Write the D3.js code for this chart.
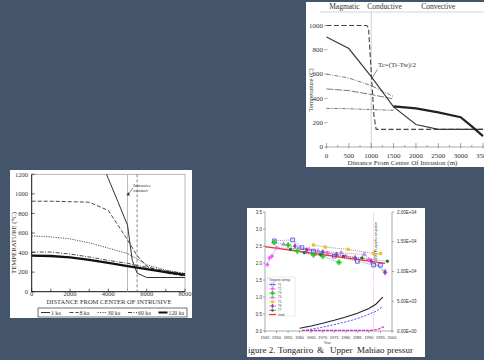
<!DOCTYPE html>
<html>
<head>
<meta charset="utf-8">
<script src="https://cdnjs.cloudflare.com/ajax/libs/d3/7.8.5/d3.min.js"></script>
<style>
  html, body { margin: 0; padding: 0; background: #44546a; overflow: hidden; }
  text { font-family: 'Liberation Serif', 'DejaVu Serif', serif; fill: #333; }
  .sans { font-family: 'Liberation Sans', Arial, sans-serif; }
</style>
</head>
<body>
<svg id="slide" width="484" height="360"></svg>
<script>
// ---- top right chart: temperature vs distance (m)
const zoneLabels = ['Magmatic', 'Conductive', 'Convective'];
const zoneCenters = [400, 1300, 2500];
const topXTicks = [0, 500, 1000, 1500, 2000, 2500, 3000, 3500];
const topXMinor = [250, 750, 1250, 1750, 2250, 2750, 3250];
const topYTicks = [0, 200, 400, 600, 800, 1000];
const magmaticStep = [[0, 1000], [900, 1000], [940, 980], [1000, 620], [1060, 260], [1110, 145], [3500, 145]];
const conductive = [[0, 905], [500, 810], [1000, 580], [1500, 330], [2000, 185], [2500, 145], [3500, 145]];
const convective = [[1500, 335], [2000, 318], [2500, 285], [3000, 245], [3250, 170], [3500, 90]];
const dashDot600 = [[0, 600], [500, 568], [1000, 505], [1500, 415]];
const thin480 = [[0, 478], [500, 464], [1000, 432], [1500, 395]];
const dashDot310 = [[0, 318], [500, 315], [1000, 308], [1500, 302]];
const tcLabel = 'Tc=(Ti-Tw)/2';

// ---- bottom left chart: temperature vs distance from intrusive
const leftXTicks = [0, 1000, 2000, 3000, 4000, 5000, 6000, 7000, 8000];
const leftXLabels = [0, 2000, 4000, 6000, 8000];
const leftYTicks = [0, 200, 400, 600, 800, 1000, 1200];
const ka1 = [[3800, 1250], [4000, 1155], [4500, 920], [5000, 680], [5250, 320], [5500, 190], [6000, 145], [8000, 145]];
const ka8 = [[0, 925], [1000, 925], [2000, 920], [3000, 915], [4000, 830], [5000, 530], [5500, 370], [6000, 260], [7000, 190], [8000, 160]];
const ka30 = [[0, 570], [1000, 560], [2000, 540], [3000, 500], [4000, 445], [5000, 390], [5500, 335], [6000, 275], [7000, 220], [8000, 185]];
const ka60 = [[0, 405], [1000, 405], [2000, 385], [3000, 355], [4000, 320], [5000, 290], [6000, 250], [7000, 215], [8000, 185]];
const ka120 = [[0, 368], [1000, 365], [2000, 350], [3000, 325], [4000, 295], [5000, 262], [6000, 230], [7000, 200], [8000, 172]];
const kaNames = ['1 ka', '8 ka', '30 ka', '60 ka', '120 ka'];
const contactX = 5000;
const contactDashX = 5500;

// ---- bottom right chart: spring data over time
const yearTicks = [1945, 1950, 1955, 1960, 1965, 1970, 1975, 1980, 1985, 1990, 1995, 2000];
const leftRatioTicks = [0, 0.5, 1, 1.5, 2, 2.5, 3, 3.5];
const rightTicks = [0, 5000, 10000, 15000, 20000];
const seriesNames = ['T1', 'T2', 'T3', 'T4', 'T5', 'T6', 'T7'];
const seriesT1 = [[1949, 2.65], [1957, 2.68], [1961, 2.45], [1966, 2.35], [1975, 2.2], [1985, 2.05], [1992, 1.94], [1995, 1.94]];
const seriesT2 = [[1946, 1.95], [1947, 2.15], [1948, 2.2], [1950, 2.45], [1964, 2.4], [1972, 2.3], [1980, 2.2], [1990, 2.1]];
const seriesT3 = [[1949, 2.6], [1955, 2.53], [1959, 2.35], [1966, 2.24], [1970, 2.2], [1977, 2.02]];
const seriesT4 = [[1953, 2.55], [1960, 2.45], [1968, 2.35], [1978, 2.3], [1988, 2.25], [1997, 1.75]];
const seriesT5 = [[1966, 2.53], [1971, 2.47], [1981, 2.4], [1992, 2.28], [1995, 2.28]];
const seriesT6 = [[1958, 2.5], [1963, 2.38], [1970, 2.32], [1976, 2.25], [1984, 2.15], [1991, 2.05], [1997, 1.72]];
const seriesT7 = [[1956, 2.4], [1962, 2.3], [1969, 2.25], [1979, 2.2], [1987, 2.15], [1998, 2.05]];
const trendLine = [[1945, 2.48], [1997, 1.99]];
const blackCurve = [[1960, 450], [1965, 850], [1970, 1300], [1975, 1800], [1980, 2350], [1985, 3000], [1990, 3800], [1993, 4500], [1996, 5700]];
const blueCurve = [[1963, 150], [1968, 500], [1973, 900], [1978, 1350], [1983, 1850], [1988, 2500], [1993, 3300], [1996, 4100]];
const magentaBase = [[1961, 100], [1964, 100], [1967, 100], [1970, 100], [1973, 100], [1976, 100], [1979, 100], [1982, 100], [1985, 100], [1988, 100], [1991, 100], [1994, 300], [1996, 700], [1997, 500]];
const eruptionYear = 1992;
const captionWords = ['igure 2.', 'Tongariro', '&', 'Upper', 'Mahiao', 'pressur'];

const svg = d3.select('#slide');
svg.append('rect').attr('width', 484).attr('height', 360).attr('fill', '#44546a');

const line = (x, y) => d3.line().x((d) => x(d[0])).y((d) => y(d[1]));

// ================= TOP RIGHT =================
function drawTopChart() {
  const g = svg.append('g');
  g.append('rect').attr('x', 306).attr('y', 2).attr('width', 178).attr('height', 165).attr('fill', '#fff');

  const x = d3.scaleLinear().domain([0, 3500]).range([326.5, 483]);
  const y = d3.scaleLinear().domain([0, 1000]).range([147, 25.5]);

  //zone header
  g.append('line').attr('x1', 320).attr('x2', 484).attr('y1', 12).attr('y2', 12).attr('stroke', '#bbb').attr('stroke-width', 0.6);
  g.selectAll('.zone')
    .data(zoneLabels)
    .join('text')
    .attr('x', (d, i) => x(zoneCenters[i]) - (i === 0 ? 0 : 0))
    .attr('y', 9)
    .attr('text-anchor', 'middle')
    .style('font-size', '7.5px')
    .text((d) => d);

  //boundary at 1000 m
  g.append('line')
    .attr('x1', x(1000)).attr('x2', x(1000))
    .attr('y1', 12).attr('y2', y(0))
    .attr('stroke', '#c4c4c4').attr('stroke-width', 0.8);

  //x axis
  g.append('line').attr('x1', x(0)).attr('x2', 484).attr('y1', y(0)).attr('y2', y(0)).attr('stroke', '#777').attr('stroke-width', 0.6);
  g.selectAll('.xt')
    .data(topXTicks)
    .join('line')
    .attr('x1', (d) => x(d)).attr('x2', (d) => x(d))
    .attr('y1', y(0) - 4).attr('y2', y(0) + 1.5)
    .attr('stroke', '#666').attr('stroke-width', 0.6);
  g.selectAll('.xm')
    .data(topXMinor)
    .join('line')
    .attr('x1', (d) => x(d)).attr('x2', (d) => x(d))
    .attr('y1', y(0) - 2).attr('y2', y(0))
    .attr('stroke', '#666').attr('stroke-width', 0.6);
  g.selectAll('.xl')
    .data(topXTicks)
    .join('text')
    .attr('x', (d) => x(d))
    .attr('y', 157.5)
    .attr('text-anchor', 'middle')
    .style('font-size', '7px')
    .text((d) => d);

  //y ticks
  g.selectAll('.yl')
    .data(topYTicks)
    .join('text')
    .attr('x', 323)
    .attr('y', (d) => y(d) + 2.3)
    .attr('text-anchor', 'end')
    .style('font-size', '7px')
    .text((d) => d);
  g.selectAll('.yt')
    .data(topYTicks)
    .join('line')
    .attr('x1', 324.5).attr('x2', 327.5)
    .attr('y1', (d) => y(d)).attr('y2', (d) => y(d))
    .attr('stroke', '#666').attr('stroke-width', 0.6);

  g.append('text')
    .attr('transform', `translate(313,${y(470)}) rotate(-90)`)
    .attr('text-anchor', 'middle')
    .style('font-size', '6.5px')
    .text('Temperature (C)');
  g.append('text')
    .attr('x', x(1700)).attr('y', 165)
    .attr('text-anchor', 'middle')
    .style('font-size', '7px')
    .text('Distance From Center Of Intrusion (m)');

  const l = line(x, y);
  const curves = [
    { d: magmaticStep, dash: '5,2.5', w: 1.1, c: '#444' },
    { d: dashDot600, dash: '4,1.5,1,1.5', w: 0.8, c: '#555' },
    { d: thin480, dash: '7,1.5', w: 0.8, c: '#555' },
    { d: dashDot310, dash: '3,1,1,1,1,1', w: 0.8, c: '#444' },
    { d: conductive, dash: null, w: 1.2, c: '#3a3a3a' },
    { d: convective, dash: null, w: 2.2, c: '#222' },
  ];
  g.selectAll('.curve')
    .data(curves)
    .join('path')
    .attr('d', (d) => l(d.d))
    .attr('fill', 'none')
    .attr('stroke', (d) => d.c)
    .attr('stroke-width', (d) => d.w)
    .attr('stroke-dasharray', (d) => d.dash);

  //Tc label with leader
  g.append('text')
    .attr('x', x(1150)).attr('y', y(660))
    .style('font-size', '7px')
    .text(tcLabel);
  g.append('line')
    .attr('x1', x(1140)).attr('y1', y(640))
    .attr('x2', x(1010)).attr('y2', y(560))
    .attr('stroke', '#444').attr('stroke-width', 0.6);
}

// ================= BOTTOM LEFT =================
function drawLeftChart() {
  const g = svg.append('g');
  g.append('rect').attr('x', 10).attr('y', 170).attr('width', 182).attr('height', 148).attr('fill', '#fff');

  const x = d3.scaleLinear().domain([0, 8000]).range([31.7, 185]);
  const y = d3.scaleLinear().domain([0, 1200]).range([291.7, 174.3]);

  svg.append('clipPath').attr('id', 'leftClip')
    .append('rect').attr('x', x(0)).attr('y', y(1200)).attr('width', x(8000) - x(0)).attr('height', y(0) - y(1200));

  //frame
  g.append('rect')
    .attr('x', x(0)).attr('y', y(1200))
    .attr('width', x(8000) - x(0)).attr('height', y(0) - y(1200))
    .attr('fill', 'none').attr('stroke', '#999').attr('stroke-width', 0.7);
  g.append('line').attr('x1', x(0)).attr('x2', x(0)).attr('y1', y(1200)).attr('y2', y(0)).attr('stroke', '#222').attr('stroke-width', 1);
  g.append('line').attr('x1', x(0)).attr('x2', x(8000)).attr('y1', y(0)).attr('y2', y(0)).attr('stroke', '#222').attr('stroke-width', 1);

  g.selectAll('.xt')
    .data(leftXTicks)
    .join('line')
    .attr('x1', (d) => x(d)).attr('x2', (d) => x(d))
    .attr('y1', y(0)).attr('y2', y(0) - 3)
    .attr('stroke', '#222').attr('stroke-width', 0.7);
  g.selectAll('.yt')
    .data(leftYTicks)
    .join('line')
    .attr('x1', x(0)).attr('x2', x(0) + 3)
    .attr('y1', (d) => y(d)).attr('y2', (d) => y(d))
    .attr('stroke', '#222').attr('stroke-width', 0.7);
  g.selectAll('.xl')
    .data(leftXLabels)
    .join('text')
    .attr('x', (d) => x(d))
    .attr('y', 296)
    .attr('text-anchor', 'middle')
    .style('font-size', '6.5px')
    .text((d) => d);
  g.selectAll('.yl')
    .data(leftYTicks)
    .join('text')
    .attr('x', 28)
    .attr('y', (d) => y(d) + 2.2)
    .attr('text-anchor', 'end')
    .style('font-size', '6.5px')
    .text((d) => d);

  g.append('text')
    .attr('x', 109).attr('y', 303.5)
    .attr('text-anchor', 'middle')
    .attr('textLength', 125).attr('lengthAdjust', 'spacingAndGlyphs')
    .style('font-size', '6.5px')
    .text('DISTANCE FROM CENTER OF INTRUSIVE');
  g.append('text')
    .attr('transform', 'translate(15.5,243) rotate(-90)')
    .attr('text-anchor', 'middle')
    .attr('textLength', 62).attr('lengthAdjust', 'spacingAndGlyphs')
    .style('font-size', '6.5px')
    .text('TEMPERATURE (°C)');

  //intrusive contact
  g.append('line')
    .attr('x1', x(contactX)).attr('x2', x(contactX))
    .attr('y1', y(1200)).attr('y2', y(0))
    .attr('stroke', '#aaa').attr('stroke-width', 0.8);
  g.append('line')
    .attr('x1', x(contactDashX)).attr('x2', x(contactDashX))
    .attr('y1', y(1200)).attr('y2', y(0))
    .attr('stroke', '#555').attr('stroke-width', 0.7).attr('stroke-dasharray', '3,2');
  g.append('text')
    .attr('x', x(5300)).attr('y', y(1075))
    .style('font-size', '5px')
    .text('Intrusive');
  g.append('text')
    .attr('x', x(5300)).attr('y', y(1020))
    .style('font-size', '5px')
    .text('contact');
  g.append('line')
    .attr('x1', x(5280)).attr('y1', y(1060))
    .attr('x2', x(5020)).attr('y2', y(990))
    .attr('stroke', '#333').attr('stroke-width', 0.6);
  g.append('path')
    .attr('d', d3.symbol().type(d3.symbolTriangle).size(6))
    .attr('transform', `translate(${x(5040)},${y(995)}) rotate(-115)`)
    .attr('fill', '#333');

  const l = line(x, y);
  const styles = [
    { d: ka1, dash: null, w: 1, c: '#333' },
    { d: ka8, dash: '4,2', w: 0.9, c: '#333' },
    { d: ka30, dash: '1.2,1.2', w: 0.9, c: '#444' },
    { d: ka60, dash: '4,1.5,1,1.5', w: 0.9, c: '#333' },
    { d: ka120, dash: null, w: 2.3, c: '#111' },
  ];
  g.append('g').attr('clip-path', 'url(#leftClip)')
    .selectAll('path')
    .data(styles)
    .join('path')
    .attr('d', (d) => l(d.d))
    .attr('fill', 'none')
    .attr('stroke', (d) => d.c)
    .attr('stroke-width', (d) => d.w)
    .attr('stroke-dasharray', (d) => d.dash);

  //legend
  const lg = g.append('g');
  lg.append('rect').attr('x', 38).attr('y', 308).attr('width', 149).attr('height', 9)
    .attr('fill', '#fff').attr('stroke', '#333').attr('stroke-width', 0.7);
  const step = [0, 28.5, 56.5, 87, 117.5];
  const item = lg.selectAll('.item')
    .data(styles)
    .join('g')
    .attr('transform', (d, i) => `translate(${41 + step[i]},312.5)`);
  item.append('line')
    .attr('x1', 0).attr('x2', 9).attr('y1', 0).attr('y2', 0)
    .attr('stroke', (d) => d.c)
    .attr('stroke-width', (d) => Math.min(d.w, 2))
    .attr('stroke-dasharray', (d) => d.dash);
  item.append('text')
    .attr('x', 10).attr('y', 2)
    .style('font-size', '5.8px')
    .text((d, i) => kaNames[i]);
}

// ================= BOTTOM RIGHT =================
function drawRightChart() {
  const g = svg.append('g');
  g.append('rect').attr('x', 247).attr('y', 208).attr('width', 178).attr('height', 149).attr('fill', '#fff');

  const x = d3.scaleLinear().domain([1945, 2000]).range([265, 392]);
  const yL = d3.scaleLinear().domain([0, 3.5]).range([331, 212]);
  const yR = d3.scaleLinear().domain([0, 20000]).range([331, 212]);

  //axes
  g.append('line').attr('x1', x(1945)).attr('x2', x(1945)).attr('y1', 212).attr('y2', 331).attr('stroke', '#555').attr('stroke-width', 0.5);
  g.append('line').attr('x1', x(2000)).attr('x2', x(2000)).attr('y1', 212).attr('y2', 331).attr('stroke', '#555').attr('stroke-width', 0.5);
  g.append('line').attr('x1', x(1945)).attr('x2', x(2000)).attr('y1', 331).attr('y2', 331).attr('stroke', '#555').attr('stroke-width', 0.5);

  g.selectAll('.ylt')
    .data(leftRatioTicks)
    .join('line')
    .attr('x1', x(1945) - 2).attr('x2', x(1945))
    .attr('y1', (d) => yL(d)).attr('y2', (d) => yL(d))
    .attr('stroke', '#555').attr('stroke-width', 0.5);
  g.selectAll('.yll')
    .data(leftRatioTicks)
    .join('text')
    .attr('class', 'sans')
    .attr('x', x(1945) - 3)
    .attr('y', (d) => yL(d) + 1.5)
    .attr('text-anchor', 'end')
    .style('font-size', '4.5px')
    .text((d) => d.toFixed(1));
  g.selectAll('.yrt')
    .data(rightTicks)
    .join('line')
    .attr('x1', x(2000)).attr('x2', x(2000) + 2)
    .attr('y1', (d) => yR(d)).attr('y2', (d) => yR(d))
    .attr('stroke', '#555').attr('stroke-width', 0.5);
  g.selectAll('.yrl')
    .data(rightTicks)
    .join('text')
    .attr('class', 'sans')
    .attr('x', x(2000) + 5)
    .attr('y', (d) => yR(d) + 1.5)
    .style('font-size', '4.5px')
    .text((d) => d3.format('.2e')(d).replace('e+', 'E+0').toUpperCase());
  g.selectAll('.xt')
    .data(yearTicks)
    .join('line')
    .attr('x1', (d) => x(d)).attr('x2', (d) => x(d))
    .attr('y1', 331).attr('y2', 333)
    .attr('stroke', '#555').attr('stroke-width', 0.5);
  g.selectAll('.xl')
    .data(yearTicks)
    .join('text')
    .attr('class', 'sans')
    .attr('x', (d) => x(d))
    .attr('y', 339)
    .attr('text-anchor', 'middle')
    .style('font-size', '4px')
    .text((d) => d);
  g.append('text').attr('class', 'sans')
    .attr('x', x(1972)).attr('y', 344)
    .attr('text-anchor', 'middle')
    .style('font-size', '3.5px')
    .text('Year');

  //eruption marker
  g.append('line')
    .attr('x1', x(eruptionYear)).attr('x2', x(eruptionYear))
    .attr('y1', 213).attr('y2', 330)
    .attr('stroke', '#f08cf0').attr('stroke-width', 0.8).attr('stroke-dasharray', '1,1.2');
  g.append('text').attr('class', 'sans')
    .attr('transform', `translate(${x(eruptionYear) + 3},242) rotate(-90)`)
    .attr('text-anchor', 'middle')
    .style('font-size', '3.8px')
    .text('1995 Ruapehu eruption');

  //right axis curves
  const lr = line(x, yR);
  g.append('path').attr('d', lr(blackCurve)).attr('fill', 'none').attr('stroke', '#222').attr('stroke-width', 1.1);
  g.append('path').attr('d', lr(blueCurve)).attr('fill', 'none').attr('stroke', '#3a3aff').attr('stroke-width', 0.9).attr('stroke-dasharray', '2,1.5');
  g.append('path').attr('d', lr(magentaBase)).attr('fill', 'none').attr('stroke', '#e020e0').attr('stroke-width', 1.1).attr('stroke-dasharray', '3,1');

  //left axis series
  const ll = line(x, yL);
  const series = [
    { d: seriesT1, c: '#3a3aff', s: d3.symbolSquare, sz: 14, open: true },
    { d: seriesT2, c: '#ff55ff', s: d3.symbolCross, sz: 8, open: false },
    { d: seriesT3, c: '#22cc22', s: d3.symbolCross, sz: 14, open: false },
    { d: seriesT4, c: '#c080f0', s: d3.symbolTriangle, sz: 9, open: false },
    { d: seriesT5, c: '#f0c020', s: d3.symbolSquare, sz: 9, open: false },
    { d: seriesT6, c: '#9040b0', s: d3.symbolDiamond, sz: 9, open: false },
    { d: seriesT7, c: '#207040', s: d3.symbolCircle, sz: 7, open: false },
  ];
  g.selectAll('.sline')
    .data(series)
    .join('path')
    .attr('d', (d) => ll(d.d))
    .attr('fill', 'none')
    .attr('stroke', '#555')
    .attr('stroke-width', 0.6)
    .attr('stroke-dasharray', '1,1');
  g.append('path').attr('d', ll(trendLine)).attr('fill', 'none').attr('stroke', '#ff2a2a').attr('stroke-width', 1.4);
  series.forEach((s) => {
    g.selectAll(null)
      .data(s.d)
      .join('path')
      .attr('d', d3.symbol().type(s.s).size(s.sz))
      .attr('transform', (d) => `translate(${x(d[0])},${yL(d[1])})`)
      .attr('fill', s.open ? 'none' : s.c)
      .attr('stroke', s.c)
      .attr('stroke-width', s.open ? 0.8 : 0.3);
  });

  //legend
  const lg = g.append('g').attr('transform', 'translate(267,277)');
  lg.append('rect').attr('width', 28).attr('height', 39).attr('fill', '#fff').attr('stroke', '#ccc').attr('stroke-width', 0.4);
  lg.append('text').attr('class', 'sans').attr('x', 2).attr('y', 3.5).style('font-size', '2.8px').text('Tongariro springs');
  const rows = lg.selectAll('.row')
    .data(series)
    .join('g')
    .attr('transform', (d, i) => `translate(2,${7.5 + i * 4.3})`);
  rows.append('line').attr('x1', 0).attr('x2', 7).attr('stroke', (d) => d.c).attr('stroke-width', 0.6);
  rows.append('path')
    .attr('d', (d) => d3.symbol().type(d.s).size(d.sz * 0.6)())
    .attr('transform', 'translate(3.5,0)')
    .attr('fill', (d) => (d.open ? 'none' : d.c))
    .attr('stroke', (d) => d.c)
    .attr('stroke-width', 0.4);
  rows.append('text').attr('class', 'sans').attr('x', 9).attr('y', 1).style('font-size', '2.8px').text((d, i) => seriesNames[i]);
  lg.append('line').attr('x1', 2).attr('x2', 9).attr('y1', 37.5).attr('y2', 37.5).attr('stroke', '#ff2a2a').attr('stroke-width', 1.2);
  lg.append('text').attr('class', 'sans').attr('x', 11).attr('y', 38.5).style('font-size', '2.8px').text('trend');

  //caption
  const capX = [248, 278, 317, 330, 357, 387];
  g.selectAll('.cap')
    .data(captionWords)
    .join('text')
    .attr('x', (d, i) => capX[i])
    .attr('y', 353)
    .style('font-size', '9px')
    .style('fill', '#222')
    .text((d) => d);
}

drawTopChart();
drawLeftChart();
drawRightChart();
</script>
</body>
</html>
